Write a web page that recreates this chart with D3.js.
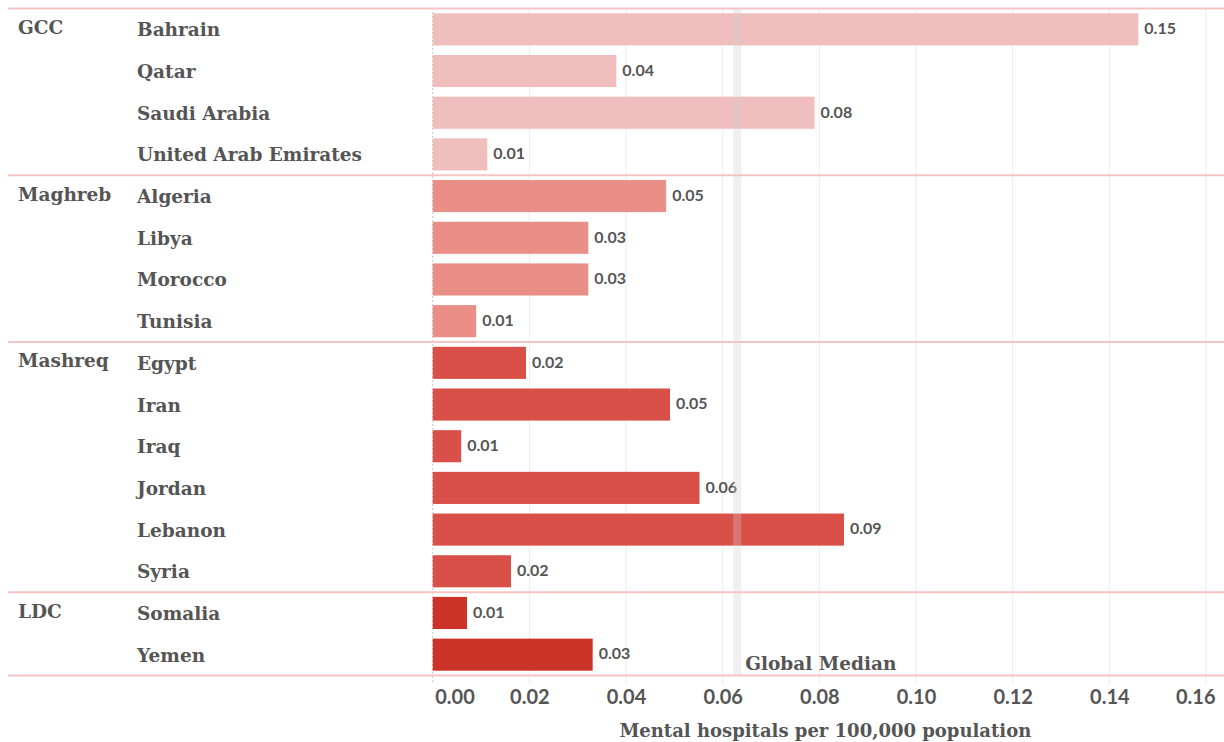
<!DOCTYPE html>
<html>
<head>
<meta charset="utf-8">
<script src="https://cdn.jsdelivr.net/npm/d3@7"></script>
<style>
  body { margin: 0; background: #fff; }
  .slab { font-family: "DejaVu Serif", serif; font-weight: bold; fill: #555; }
  .num { font-family: Lato, "Open Sans", sans-serif; font-weight: bold; fill: #555; }
</style>
</head>
<body>
<div id="chart"></div>
<script>
// data
var countries = ["Bahrain", "Qatar", "Saudi Arabia", "United Arab Emirates",
                 "Algeria", "Libya", "Morocco", "Tunisia",
                 "Egypt", "Iran", "Iraq", "Jordan", "Lebanon", "Syria",
                 "Somalia", "Yemen"];
var regions = ["GCC", "GCC", "GCC", "GCC",
               "Maghreb", "Maghreb", "Maghreb", "Maghreb",
               "Mashreq", "Mashreq", "Mashreq", "Mashreq", "Mashreq", "Mashreq",
               "LDC", "LDC"];
var values = [0.146, 0.038, 0.079, 0.0113,
              0.0483, 0.0322, 0.0322, 0.009,
              0.0193, 0.0491, 0.0059, 0.0552, 0.0851, 0.0162,
              0.0071, 0.0331];
var regionNames = ["GCC", "Maghreb", "Mashreq", "LDC"];
var xTicks = [0, 0.02, 0.04, 0.06, 0.08, 0.10, 0.12, 0.14, 0.16];
var globalMedian = 0.063;

var chartWidth = 1224;
var chartHeight = 742;

var regionColor = d3.scaleOrdinal()
  .domain(regionNames)
  .range(["#efbebd", "#ea8f87", "#d95049", "#cb3329"]);

var dataset = countries.map(function(c, i) {
  return { name: c, region: regions[i], value: values[i] };
});

var xScale = d3.scaleLinear()
  .domain([0, 0.16])
  .range([432.7, 1206]);

var yScale = d3.scaleBand()
  .domain(countries)
  .range([8.5, 675.5])
  .paddingInner(0.23)
  .paddingOuter(0.115);

var gap = (yScale.step() - yScale.bandwidth()) / 2;

var svg = d3.select("#chart")
  .append("svg")
  .attr("width", chartWidth)
  .attr("height", chartHeight);

// vertical grid
svg.append("g")
  .selectAll("line")
  .data(xTicks.slice(1))
  .enter()
  .append("line")
  .attr("x1", function(d) { return xScale(d); })
  .attr("x2", function(d) { return xScale(d); })
  .attr("y1", 8)
  .attr("y2", 684)
  .style("stroke", "#ececec")
  .style("stroke-width", 1);

// zero line, dashed
svg.append("line")
  .attr("x1", xScale(0)).attr("x2", xScale(0))
  .attr("y1", 8).attr("y2", 684)
  .style("stroke", "#c8c8c8")
  .style("stroke-dasharray", "2,2");

// bars
svg.selectAll("rect.bar")
  .data(dataset)
  .enter()
  .append("rect")
  .attr("class", "bar")
  .attr("x", xScale(0))
  .attr("y", function(d) { return yScale(d.name); })
  .attr("width", function(d) { return xScale(d.value) - xScale(0); })
  .attr("height", yScale.bandwidth())
  .style("fill", function(d) { return regionColor(d.region); });

// value labels
svg.selectAll("text.val")
  .data(dataset)
  .enter()
  .append("text")
  .attr("class", "num")
  .attr("x", function(d) { return xScale(d.value) + 6; })
  .attr("y", function(d) { return yScale(d.name) + yScale.bandwidth() / 2; })
  .attr("dy", "0.3em")
  .style("font-size", "16px")
  .text(function(d) { return d3.format(".2f")(d.value); });

// global median band
svg.append("rect")
  .attr("x", xScale(globalMedian) - 4)
  .attr("y", 8)
  .attr("width", 8)
  .attr("height", 668)
  .style("fill", "rgb(207,207,207)")
  .style("opacity", 0.31);

svg.append("text")
  .attr("class", "slab")
  .attr("x", xScale(globalMedian) + 8)
  .attr("y", 670)
  .style("font-size", "18.5px")
  .text("Global Median");

// group separators
var firstRows = regionNames.map(function(r) {
  return dataset.filter(function(d) { return d.region == r; })[0];
});
var sepYs = firstRows.map(function(d) { return yScale(d.name) - gap; });
sepYs.push(yScale(countries[countries.length - 1]) + yScale.bandwidth() + gap);

svg.append("g")
  .selectAll("line")
  .data(sepYs)
  .enter()
  .append("line")
  .attr("x1", 8)
  .attr("x2", chartWidth)
  .attr("y1", function(d) { return d; })
  .attr("y2", function(d) { return d; })
  .style("stroke", "#f4c4c4")
  .style("stroke-width", 2);

// country labels
svg.selectAll("text.country")
  .data(dataset)
  .enter()
  .append("text")
  .attr("class", "slab")
  .attr("x", 137)
  .attr("y", function(d) { return yScale(d.name) + yScale.bandwidth() / 2; })
  .attr("dy", "0.38em")
  .style("font-size", "18.5px")
  .text(function(d) { return d.name; });

// region labels
svg.selectAll("text.region")
  .data(firstRows)
  .enter()
  .append("text")
  .attr("class", "slab")
  .attr("x", 18)
  .attr("y", function(d) { return yScale(d.name) + yScale.bandwidth() / 2; })
  .attr("dy", "0.25em")
  .style("font-size", "18.5px")
  .text(function(d) { return d.region; });

// x axis
var xAxis = d3.axisBottom(xScale)
  .tickValues(xTicks)
  .tickFormat(d3.format(".2f"))
  .tickSize(0)
  .tickPadding(0);

var axisG = svg.append("g")
  .attr("transform", "translate(0,704)")
  .call(xAxis);
axisG.select(".domain").remove();
axisG.selectAll("text")
  .attr("class", "num")
  .attr("y", 0)
  .attr("dy", 0)
  .style("font-size", "20px")
  .style("fill", "#555");
axisG.selectAll(".tick").filter(function(d) { return d == 0; })
  .select("text").attr("text-anchor", "start").attr("x", 2);
axisG.selectAll(".tick").filter(function(d) { return d == 0.16; })
  .select("text").attr("text-anchor", "end").attr("x", 9);

svg.append("text")
  .attr("class", "slab")
  .attr("x", (xScale(0) + xScale(0.16)) / 2 + 6)
  .attr("y", 737)
  .style("text-anchor", "middle")
  .style("font-size", "18px")
  .text("Mental hospitals per 100,000 population");
</script>
</body>
</html>
